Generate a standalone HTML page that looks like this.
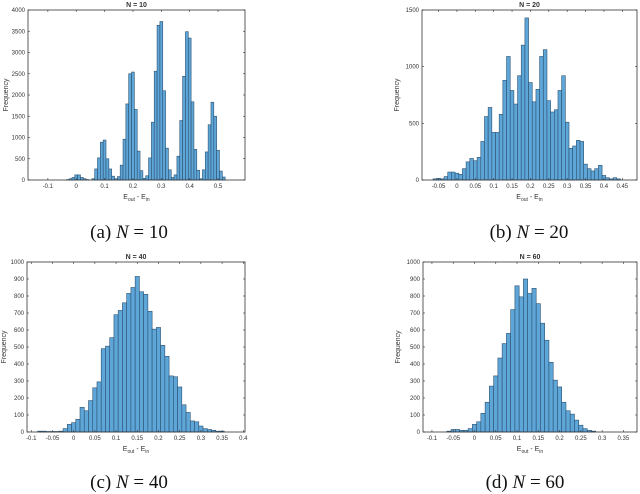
<!DOCTYPE html>
<html><head><meta charset="utf-8"><style>
body{margin:0;background:#fff;width:640px;height:494px;overflow:hidden}
svg{display:block}
.t{font-family:"Liberation Sans",sans-serif;fill:#333}
.cap{font-family:"Liberation Serif",serif;font-size:19px;fill:#111}
</style></head><body>
<svg id="s" width="640" height="494"></svg>
<script>
const aValues=[10,30,60,120,120,60,30,10,0,30,260,520,890,940,500,260,90,30,80,350,960,1790,2500,2540,1660,680,220,40,100,520,1360,2560,3640,3730,2100,750,240,60,120,560,1400,2440,3490,3340,1840,720,230,30,240,660,1300,1830,1500,700,210,70];
const aStart=-0.03;
const bValues=[10,15,10,30,70,70,60,50,100,160,190,170,200,340,560,640,420,420,580,880,1090,790,670,920,1190,1430,860,690,800,1090,1150,700,600,620,790,920,510,280,300,350,340,140,100,80,100,130,40,20,10,20,10];
const bStart=-0.06;
const cValues=[5,5,3,3,3,5,20,45,55,75,145,125,185,260,295,490,505,555,690,715,760,815,850,915,825,810,710,605,615,510,445,330,325,265,160,115,65,60,35,20,15,10,5,5];
const cStart=-0.08;
const dValues=[5,15,15,10,10,20,45,60,110,175,270,330,435,520,580,720,860,795,900,815,845,755,640,540,410,305,265,175,125,105,70,40,20,10,5];
const dStart=-0.06;
const aXTicks=[-0.1,0,0.1,0.2,0.3,0.4,0.5];
const bXTicks=[-0.05,0,0.05,0.1,0.15,0.2,0.25,0.3,0.35,0.4,0.45];
const cXTicks=[-0.1,-0.05,0,0.05,0.1,0.15,0.2,0.25,0.3,0.35,0.4];
const dXTicks=[-0.1,-0.05,0,0.05,0.1,0.15,0.2,0.25,0.3,0.35];
const aYTicks=[0,500,1000,1500,2000,2500,3000,3500,4000];
const bYTicks=[0,500,1000,1500];
const cYTicks=[0,100,200,300,400,500,600,700,800,900,1000];
const dYTicks=cYTicks;
const titles=["N = 10","N = 20","N = 40","N = 60"];

const NS="http://www.w3.org/2000/svg";
const svg=document.getElementById('s');
function mk(tag,attrs,parent){const e=document.createElementNS(NS,tag);for(const k in attrs)e.setAttribute(k,attrs[k]);(parent||svg).appendChild(e);return e;}

function panel(id,L,R,T,B,xmin,xmax,ymax,vals,start,xt,yt,title,ylx,capX,capY,capL,capN){
  const g=mk('g',{});
  
  
  const sx=v=>L+(v-xmin)/(xmax-xmin)*(R-L);
  const sy=v=>B-v/ymax*(B-T);
  const w=0.01;
  vals.forEach((v,i)=>{
    if(v<=0)return;
    const x0=sx(start+i*w-w/2),x1=sx(start+i*w+w/2);
    const r=mk('rect',{x:x0,y:sy(v),width:x1-x0,height:B-sy(v),fill:'#5ea5d8',stroke:'#2d5270','stroke-width':0.6},g);
    
    
  });
  const fr=mk('rect',{x:L,y:T,width:R-L,height:B-T,fill:'none',stroke:'#333','stroke-width':0.8},g);
  
  
  xt.forEach(v=>{
    const x=sx(v);
    mk('line',{x1:x,x2:x,y1:B,y2:B-2,stroke:'#333','stroke-width':0.6},g);
    mk('line',{x1:x,x2:x,y1:T,y2:T+2,stroke:'#333','stroke-width':0.6},g);
    const t=mk('text',{x:x,y:B+8,'text-anchor':'middle','font-size':6,class:'t'},g);
    t.textContent=String(v);
    
    
  });
  yt.forEach(v=>{
    const y=sy(v);
    mk('line',{x1:L,x2:L+2,y1:y,y2:y,stroke:'#333','stroke-width':0.6},g);
    mk('line',{x1:R,x2:R-2,y1:y,y2:y,stroke:'#333','stroke-width':0.6},g);
    const t=mk('text',{x:L-3,y:y+2,'text-anchor':'end','font-size':6,class:'t'},g);
    t.textContent=String(v);
    
    
  });
  const tt=mk('text',{x:(L+R)/2,y:T-3,'text-anchor':'middle','font-size':7,'font-weight':'bold',class:'t'},g);
  tt.textContent=title;
  
  
  const xl=mk('text',{x:(L+R)/2,y:B+19,'text-anchor':'middle','font-size':7,class:'t'},g);
  xl.innerHTML='E<tspan font-size="5" dy="2">out</tspan><tspan dy="-2"> - E</tspan><tspan font-size="5" dy="2">in</tspan>';
  
  
  const yl=mk('text',{x:0,y:0,'text-anchor':'middle','font-size':7,class:'t',transform:`translate(${ylx},${(T+B)/2}) rotate(-90)`},g);
  yl.textContent='Frequency';
  
  
  const cp=mk('text',{x:capX,y:capY,'text-anchor':'middle',class:'cap'},g);
  cp.innerHTML=capL+' <tspan font-style="italic">N</tspan> = '+capN;
  
  
}
panel('a',28,245,10,180,-0.17,0.595,4000,aValues,aStart,aXTicks,aYTicks,titles[0],8,129,238,'(a)','10');
panel('b',422,637,10,180,-0.095,0.49,1500,bValues,bStart,bXTicks,bYTicks,titles[1],399,529,238,'(b)','20');
panel('c',27,245,262,432,-0.11,0.404,1000,cValues,cStart,cXTicks,cYTicks,titles[2],6,129,488,'(c)','40');
panel('d',423,637,262,432,-0.121,0.382,1000,dValues,dStart,dXTicks,dYTicks,titles[3],400,525,488,'(d)','60');
</script>
</body></html>
